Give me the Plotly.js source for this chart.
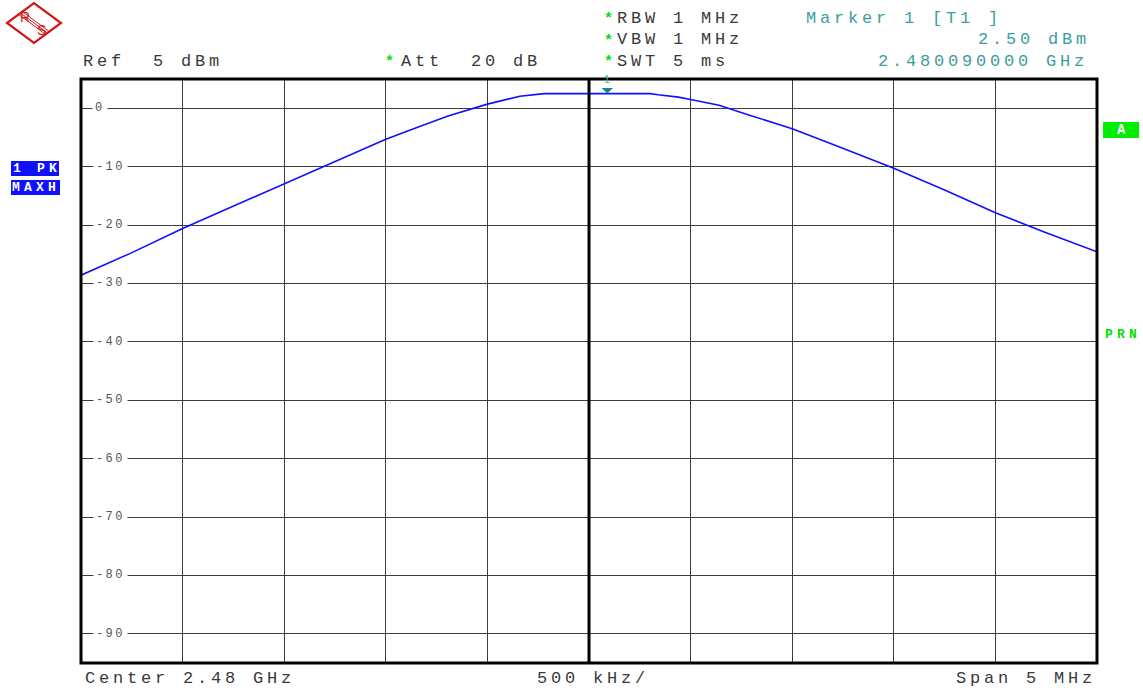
<!DOCTYPE html>
<html>
<head>
<meta charset="utf-8">
<script src="https://cdn.plot.ly/plotly-3.0.1.min.js"></script>
<style>
  html, body { margin: 0; padding: 0; background: #fff; }
  #chart { width: 1143px; height: 691px; }
  text[style*="Liberation Mono"][style*="font-size: 17px"] { letter-spacing: 3.8px; }
  text[style*="Liberation Mono"][style*="font-size: 12px"] { letter-spacing: 2.4px; }
  text[style*="Liberation Mono"][style*="font-size: 13px"] { letter-spacing: 4.2px; }
</style>
</head>
<body>
<div id="chart"></div>
<script>
// ---- data ----
const centerGHz = 2.48;
const spanGHz = 0.005;
const freqGHz = [2.4775, 2.47774, 2.47800, 2.47825, 2.47850, 2.47875, 2.47900, 2.47916, 2.47931,
                 2.47950, 2.47966, 2.47978, 2.48030, 2.48034, 2.48044, 2.48050, 2.48064, 2.48079,
                 2.48100, 2.48123, 2.48150, 2.48175, 2.48200, 2.48224, 2.4825];
const levelDbm = [-28.6, -24.9, -20.6, -16.8, -12.9, -9.2, -5.3, -3.2, -1.3,
                  0.7, 2.05, 2.5, 2.5, 2.3, 1.9, 1.5, 0.5, -1.2,
                  -3.5, -6.6, -10.3, -14.0, -17.9, -21.2, -24.6];
const markerFreqGHz = 2.48009;
const markerLevelDbm = 2.50;
const yTickVals = [0, -10, -20, -30, -40, -50, -60, -70, -80, -90];
const refLevelDbm = 5;
const yBottomDbm = -95;

const headerLeft = ["Ref  5 dBm"];
const headerSettings = ["RBW 1 MHz", "VBW 1 MHz", "SWT 5 ms"];
const attText = "Att  20 dB";
const markerTexts = ["Marker 1 [T1 ]", "2.50 dBm", "2.480090000 GHz"];
const footerTexts = ["Center 2.48 GHz", "500 kHz/", "Span 5 MHz"];
const traceLabels = ["1 PK", "MAXH"];

// ---- layout helpers (pixel -> paper) ----
const W = 1143, H = 691, ML = 81, MR = 46, MT = 79, MB = 28;
const PW = W - ML - MR, PH = H - MT - MB;
const px = v => (v - ML) / PW;
const py = v => (H - MB - v) / PH;

const MONO = '"Liberation Mono", "Courier New", monospace';
const TXT = '#3a3a3a';
const TEAL = '#3a9e9e';
const GREEN = '#00e000';
const BLUE = '#1010ff';

const ann = [];
function txt(text, xPix, yPix, opts) {
  opts = opts || {};
  ann.push({
    xref: 'paper', yref: 'paper', x: px(xPix), y: py(yPix),
    xanchor: opts.xanchor || 'left', yanchor: 'middle', showarrow: false,
    text: text,
    font: { family: opts.family || MONO, size: opts.size || 17, color: opts.color || TXT, weight: opts.weight || 'normal' },
    bgcolor: opts.bg, borderpad: opts.pad || 0
  });
}

// header
txt(headerLeft[0], 82, 62);
txt('*', 384, 63, { color: GREEN, weight: 'bold', size: 15 });
txt(attText, 400, 62);
headerSettings.forEach((s, i) => {
  txt('*', 603, 19 + 22 * i, { color: GREEN, weight: 'bold', size: 15 });
  txt(s, 616, 18 + 22 * i);
});
txt(markerTexts[0], 805, 18, { color: TEAL });
txt(markerTexts[1], 977, 40, { color: TEAL });
txt(markerTexts[2], 877, 62, { color: TEAL });
// footer
txt(footerTexts[0], 84, 678);
txt(footerTexts[1], 536, 678);
txt(footerTexts[2], 955, 678);

// y labels inside the grid (white background breaks the gridline)
yTickVals.forEach(v => {
  ann.push({
    xref: 'paper', yref: 'y', x: px(v === 0 ? 92 : 93), y: v,
    xanchor: 'left', yanchor: 'middle', showarrow: false,
    text: v === 0 ? '0' : '-' + Math.abs(v),
    font: { family: MONO, size: 12, color: '#555' },
    bgcolor: '#ffffff', borderpad: 2
  });
});

// side labels
txt(traceLabels[0], 12, 168.5, { size: 13, color: '#ffffff', weight: 'bold' });
txt(traceLabels[1], 11, 187.5, { size: 13, color: '#ffffff', weight: 'bold' });
txt('A', 1121, 130, { size: 14, color: '#ffffff', weight: 'bold', xanchor: 'center' });
txt('PRN', 1104, 334, { size: 13, color: GREEN, weight: 'bold' });

// marker 1: label "1" with a triangle head pointing at the marker position
ann.push({
  x: markerFreqGHz, y: markerLevelDbm, xref: 'x', yref: 'y',
  text: '1', showarrow: true, ax: 0, ay: -15,
  arrowhead: 1, arrowsize: 1.9, arrowwidth: 1, arrowcolor: '#138a8a',
  standoff: 0, startstandoff: 3,
  font: { family: 'Liberation Sans', size: 11, color: '#55b0b0' }
});

// R&S logo
txt('R', 25, 17, { family: 'Liberation Sans', size: 14, color: '#d01818', xanchor: 'center' });
txt('S', 41, 30, { family: 'Liberation Sans', size: 14, color: '#d01818', xanchor: 'center' });

function pth(pts, close) {
  return pts.map((p, i) => (i ? 'L' : 'M') + px(p[0]) + ',' + py(p[1])).join(' ') + (close ? ' Z' : '');
}
const shapes = [
  // logo diamond
  { type: 'path', xref: 'paper', yref: 'paper', path: pth([[7, 23], [34, 3], [61, 23], [34, 43]], true),
    line: { color: '#d01818', width: 2.2 }, fillcolor: 'rgba(0,0,0,0)' },
  { type: 'path', xref: 'paper', yref: 'paper', path: pth([[19.2, 14.8], [46.2, 34.8]]), line: { color: '#d01818', width: 1 } },
  { type: 'path', xref: 'paper', yref: 'paper', path: pth([[20.5, 13], [47.5, 33]]), line: { color: '#d01818', width: 1 } },
  { type: 'path', xref: 'paper', yref: 'paper', path: pth([[21.8, 11.2], [48.8, 31.2]]), line: { color: '#d01818', width: 1 } },
  // side boxes
  { type: 'rect', xref: 'paper', yref: 'paper', x0: px(11), x1: px(59), y0: py(161), y1: py(176), fillcolor: BLUE, line: { width: 0 } },
  { type: 'rect', xref: 'paper', yref: 'paper', x0: px(11), x1: px(60), y0: py(180), y1: py(195), fillcolor: BLUE, line: { width: 0 } },
  { type: 'rect', xref: 'paper', yref: 'paper', x0: px(1103), x1: px(1139), y0: py(122), y1: py(138), fillcolor: '#00ee00', line: { width: 0 } },
  // center line and frame
  { type: 'line', xref: 'x', yref: 'paper', x0: centerGHz, x1: centerGHz, y0: 0, y1: 1, line: { color: '#000', width: 3 } },
  { type: 'rect', xref: 'paper', yref: 'paper', x0: 0, x1: 1, y0: 0, y1: 1, line: { color: '#000', width: 3 } }
];

const trace = {
  x: freqGHz, y: levelDbm, type: 'scatter', mode: 'lines',
  line: { color: BLUE, width: 1.6 }, hoverinfo: 'skip', showlegend: false
};

const layout = {
  width: W, height: H,
  margin: { l: ML, r: MR, t: MT, b: MB, pad: 0 },
  paper_bgcolor: '#ffffff', plot_bgcolor: '#ffffff',
  showlegend: false,
  xaxis: {
    range: [centerGHz - spanGHz / 2, centerGHz + spanGHz / 2],
    tick0: centerGHz - spanGHz / 2, dtick: spanGHz / 10, tickmode: 'linear',
    showgrid: true, gridcolor: '#3c3c3c', gridwidth: 1,
    zeroline: false, showticklabels: false, ticks: '', showline: false, fixedrange: true
  },
  yaxis: {
    range: [yBottomDbm, refLevelDbm],
    tick0: 0, dtick: 10, tickmode: 'linear',
    showgrid: true, gridcolor: '#3c3c3c', gridwidth: 1,
    zeroline: false, showticklabels: false, ticks: '', showline: false, fixedrange: true
  },
  annotations: ann,
  shapes: shapes
};

Plotly.newPlot('chart', [trace], layout, { staticPlot: true, displayModeBar: false });
</script>
</body>
</html>
